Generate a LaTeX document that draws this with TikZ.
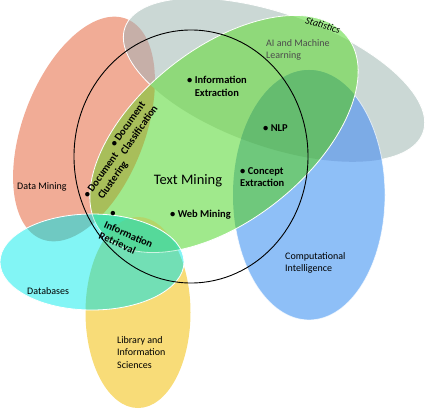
\documentclass[tikz,border=0pt]{standalone}
\usepackage{fontspec}
\setmainfont{Carlito}
\definecolor{cSal}{HTML}{F1AC96}
\definecolor{cGray}{HTML}{CBD8D5}
\definecolor{cSalGray}{HTML}{C6AFA8}
\definecolor{cBlue}{HTML}{8EBFF7}
\definecolor{cBlueGray}{HTML}{7CABE6}
\definecolor{cYel}{HTML}{F8DC78}
\definecolor{cGrn}{HTML}{A0E98C}
\definecolor{cOlive}{HTML}{A8BE5A}
\definecolor{cGrnGray}{HTML}{8FD97A}
\definecolor{cGrnBlue}{HTML}{6FC87C}
\definecolor{cNLP}{HTML}{65BC6F}
\definecolor{cGrnYel}{HTML}{B4D66A}
\definecolor{cCyan}{HTML}{82F5F5}
\definecolor{cCyanSal}{HTML}{6FC9C2}
\definecolor{cCyanYel}{HTML}{72DFB5}
\definecolor{cMint}{HTML}{4BE0AA}
\definecolor{cMintY}{HTML}{55D99A}
\begin{document}
\begin{tikzpicture}[x=1pt,y=-1pt,line join=round,
  rS/.style={rotate around={-21:(84,129)}},
  rGr/.style={rotate around={-19.4:(274,80)}},
  rGn/.style={rotate around={38.4:(224,134)}},
  outline/.style={draw=white,line width=0.8pt},
  lbl/.style={font=\fontsize{10}{12.5}\selectfont,align=left,inner sep=0pt},
  blbl/.style={font=\fontsize{10.5}{12.5}\selectfont\bfseries,align=left,inner sep=0pt}]
\useasboundingbox (0,0) rectangle (425,409);
\clip (0,0) rectangle (425,409);
\def\PS{(84,129) ellipse [x radius=61pt,y radius=118pt]}
\def\PGr{(274,80) ellipse [x radius=158pt,y radius=66.5pt]}
\def\PGn{(224,134) ellipse [x radius=157pt,y radius=86pt]}
\def\PB{(309,195) ellipse [x radius=76pt,y radius=125pt]}
\def\PC{(92,262) ellipse [x radius=92pt,y radius=48pt]}
\def\PY{(138,312.5) ellipse [x radius=52.5pt,y radius=95.5pt]}
\def\ALL{(0,0) rectangle (425,409)}
% Data Mining
\fill[cSal,rS] \PS;
% Statistics
\fill[cGray,rGr] \PGr;
\begin{scope}\clip[rS] \PS; \fill[cSalGray,rGr] \PGr;\end{scope}
\draw[outline,rGr] \PGr;
% Computational Intelligence
\fill[cBlue] \PB;
\begin{scope}\clip[rGr] \PGr; \fill[cBlueGray] \PB;\end{scope}
\draw[outline,draw opacity=0.7] \PB;
% Library and Information Sciences
\fill[cYel] \PY;
% AI and Machine Learning
\fill[cGrn,rGn] \PGn;
\begin{scope}\clip[rGn] \PGn;
  \begin{scope}\clip[rS] \PS; \fill[cOlive] \ALL;\end{scope}
  \begin{scope}\clip[rGr] \PGr; \fill[cGrnGray] \ALL;\end{scope}
  \begin{scope}\clip \PB; \fill[cGrnBlue] \ALL; \clip[rGr] \PGr; \fill[cNLP] \ALL;\end{scope}
  \begin{scope}\clip \PY; \fill[cGrnYel] \ALL;\end{scope}
\end{scope}
\draw[outline,rGn] \PGn;
% Databases
\fill[cCyan] \PC;
\begin{scope}\clip \PC;
  \begin{scope}\clip[rS] \PS; \fill[cCyanSal] \ALL;\end{scope}
  \begin{scope}\clip \PY; \fill[cCyanYel] \ALL;\end{scope}
  \begin{scope}\clip[rGn] \PGn; \fill[cMint] \ALL; \clip \PY; \fill[cMintY] \ALL;\end{scope}
  \draw[outline,rGn,draw opacity=0.7] \PGn;
\end{scope}
\draw[outline] \PC;
% Text Mining circle
\draw[black,line width=0.9pt] (191,156.5) ellipse [x radius=117pt,y radius=126.5pt];
% labels
\node[lbl,anchor=west] (dm) at (17,187) {Data Mining};
\node[lbl,font=\fontsize{10}{12}\selectfont\itshape,rotate=-17] (st) at (323,25) {Statistics};
\node[lbl,anchor=west,text=black!70] (ai) at (266,50) {AI and Machine\\Learning};
\node[blbl,anchor=west] (ie) at (187,86.5) {\textbullet~Information\\\phantom{\textbullet~}Extraction};
\node[blbl,anchor=west] (nlp) at (263,128.5) {\textbullet~NLP};
\node[blbl,anchor=west] (ce) at (240,177) {\textbullet~Concept\\Extraction};
\node[lbl,font=\fontsize{14.5}{17}\selectfont] (tm) at (188,181) {Text Mining};
\node[blbl,anchor=west] (wm) at (170,215) {\textbullet~Web Mining};
\node[blbl,rotate=55] (dcl) at (106.6,179.3) {\textbullet~Document\\\phantom{\textbullet~}Clustering};
\node[blbl,rotate=55] (dcf) at (134,126.3) {\textbullet~Document\\Classification};
\node[blbl] (irb) at (113,214) {\textbullet};
\node[blbl,rotate=-24] (ir) at (126,240) {Information\\Retrieval};
\node[lbl,anchor=west] (db) at (27,291) {Databases};
\node[lbl,anchor=west] (lis) at (117,352.5) {Library and\\Information\\Sciences};
\node[lbl,anchor=west] (ci) at (285,263) {Computational\\Intelligence};
\end{tikzpicture}
\end{document}
